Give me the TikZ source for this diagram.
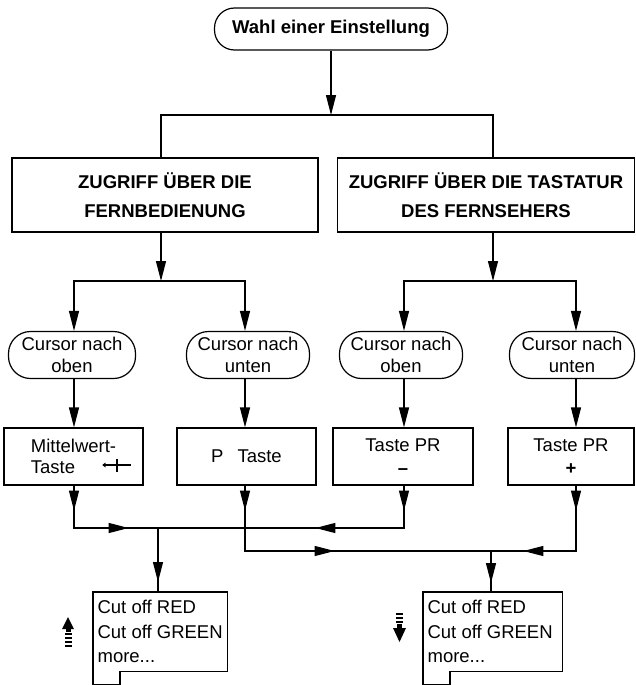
\documentclass[tikz,border=0pt]{standalone}
\usepackage{fontspec}
\setmainfont{Liberation Sans}
\usetikzlibrary{arrows.meta,decorations.markings}
\begin{document}
\begin{tikzpicture}[x=1pt,y=-1pt,line width=1.2pt,
  tip/.tip={Triangle[length=20pt,width=10pt]},
  arr/.style={-tip},
  midarr/.style={postaction={decorate},decoration={markings,
     mark=at position #1 with {\arrow{tip}}}},
  midarrb/.style 2 args={postaction={decorate},decoration={markings,
     mark=at position #1 with {\arrow{tip}},
     mark=at position #2 with {\arrow{tip}}}},
  startbox/.style={draw,rounded corners=20pt,minimum width=233pt,minimum height=42pt,
     font=\fontsize{18.5}{22}\selectfont\bfseries},
  accessbox/.style={draw,minimum height=74pt,align=center,
     font=\fontsize{18.5}{29}\selectfont\bfseries},
  cursorbox/.style={draw,rounded corners=22pt,minimum width=125pt,minimum height=47pt,
     align=center,inner sep=0pt,font=\fontsize{18.5}{22}\selectfont},
  keybox/.style={draw,minimum width=139pt,minimum height=57pt,inner sep=0pt,
     font=\fontsize{18.5}{21}\selectfont},
  listtxt/.style={anchor=north west,inner sep=0pt,align=left,
     font=\fontsize{18.5}{24.5}\selectfont},
  hatch/.style={line width=1.6pt}]
\useasboundingbox (0,0) rectangle (636,685);

% top
\node[startbox] (top) at (331,29) {Wahl einer Einstellung};
\coordinate (j0) at (331,115);
\coordinate (jL) at (161,115);
\coordinate (jR) at (493,115);

% access boxes
\node[accessbox,minimum width=306pt] (accL) at (165,195) {ZUGRIFF ÜBER DIE\\FERNBEDIENUNG};
\node[accessbox,minimum width=297pt] (accR) at (486,195) {ZUGRIFF ÜBER DIE TASTATUR\\DES FERNSEHERS};

\draw[arr] (top) -- (j0);
\draw (jL |- accL.north) -- (jL) -- (jR) -- (jR |- accR.north);

% branch points
\coordinate (bL) at (161,281);
\coordinate (bR) at (493,281);
\draw[arr] (bL |- accL.south) -- (bL);
\draw[arr] (bR |- accR.south) -- (bR);

% column x positions
\coordinate (x1) at (74,0);
\coordinate (x2) at (245,0);
\coordinate (x3) at (404,0);
\coordinate (x4) at (576,0);

% cursor nodes
\node[cursorbox,minimum width=127pt] (c1) at (72,355) {Cursor nach\\oben};
\node[cursorbox,minimum width=123pt] (c2) at (248,355) {Cursor nach\\unten};
\node[cursorbox,minimum width=123pt] (c3) at (401,355) {Cursor nach\\oben};
\node[cursorbox,minimum width=125pt] (c4) at (572,355) {Cursor nach\\unten};

\draw[arr] (bL) -| (x1 |- c1.north);
\draw[arr] (bL) -| (x2 |- c2.north);
\draw[arr] (bR) -| (x3 |- c3.north);
\draw[arr] (bR) -| (x4 |- c4.north);

% key boxes
\node[keybox,align=left] (t1) at (73.5,456.5) {Mittelwert-\\Taste\hspace*{40pt}};
\node[keybox] (t2) at (246.5,456.5) {P\hspace{14pt}Taste};
\node[keybox,minimum width=140pt,align=center] (t3) at (403,456.5) {Taste PR\\[2pt]\textbf{--}};
\node[keybox,minimum width=126pt,align=center] (t4) at (571,456.5) {Taste PR\\[2pt]\textbf{+}};

% symbol in Mittelwert box
\coordinate (s0) at (103,465);
\coordinate (s1) at (131,465);
\coordinate (s2) at (117,459);
\coordinate (s3) at (117,472);
\draw[line width=1.3pt] (s0) -- (s1);
\draw[line width=1.8pt] (s2) -- (s3);
\draw[line width=0.8pt] (105.5,463) -- (103,465) -- (105.5,467);

\draw[arr] (x1 |- c1.south) -- (x1 |- t1.north);
\draw[arr] (x2 |- c2.south) -- (x2 |- t2.north);
\draw[arr] (x3 |- c3.south) -- (x3 |- t3.north);
\draw[arr] (x4 |- c4.south) -- (x4 |- t4.north);

% merge points
\coordinate (m1) at (74,528);
\coordinate (m3) at (404,528);
\coordinate (n1) at (158,528);
\coordinate (m2) at (245,551);
\coordinate (m4) at (576,551);
\coordinate (n2) at (491,551);

\draw[midarrb={25pt}{97pt}] (t1.south -| m1) -- (m1) -- (n1);
\draw[midarrb={25pt}{131pt}] (t3.south -| m3) -- (m3) -- (n1);
\draw[midarrb={25pt}{155pt}] (t2.south -| m2) -- (m2) -- (n2);
\draw[midarrb={25pt}{118pt}] (t4.south -| m4) -- (m4) -- (n2);

% list boxes
\node[minimum width=133pt,minimum height=78pt,inner sep=0pt,anchor=north west] (l1) at (93,592) {};
\node[minimum width=138pt,minimum height=78pt,inner sep=0pt,anchor=north west] (l2) at (423,592) {};
\draw (l1.north west) -- (l1.north east) -- (l1.south east) -- ([xshift=27pt]l1.south west)
  -- ++(0,13) -- ++(-27,0) -- cycle;
\draw (l2.north west) -- (l2.north east) -- (l2.south east) -- ([xshift=27pt]l2.south west)
  -- ++(0,13) -- ++(-27,0) -- cycle;
\node[listtxt] (l1t) at (97,600) {Cut off RED\\Cut off GREEN\\more...};
\node[listtxt] (l2t) at (427,600) {Cut off RED\\Cut off GREEN\\more...};

\draw[midarr={54pt}] (n1) -- (n1 |- l1.north);
\draw[midarr={32pt}] (n2) -- (n2 |- l2.north);

% up arrow icon
\fill (62,629) -- (68,617) -- (74,629) -- cycle;
\fill (66,628) rectangle (71,632);
\foreach \yy in {634,638,642,646} \draw[hatch] (65,\yy) -- (72,\yy);
% down arrow icon
\foreach \yy in {614,618,622} \draw[hatch] (396,\yy) -- (403,\yy);
\fill (397,624) rectangle (402,629);
\fill (393,628) -- (399.5,642) -- (406,628) -- cycle;
\end{tikzpicture}
\end{document}
